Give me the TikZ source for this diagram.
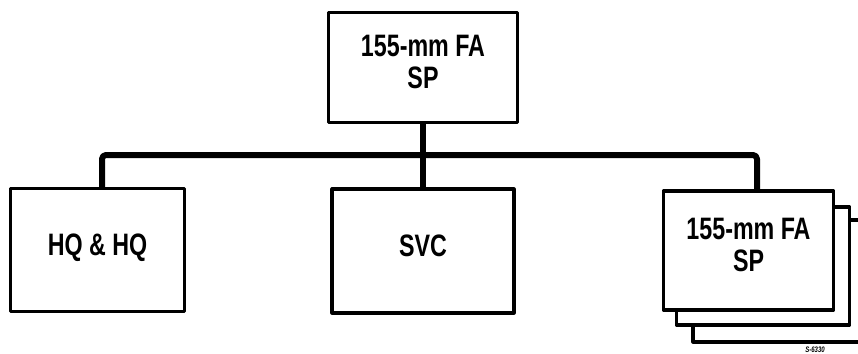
\documentclass[tikz,border=0pt]{standalone}
\usepackage{fontspec}
\setmainfont{Liberation Sans}[FakeStretch=0.75]
\usetikzlibrary{positioning}
\begin{document}
\begin{tikzpicture}[x=1pt,y=-1pt,line cap=round,line join=round,
  unit/.style={draw,line width=3.2pt,fill=white,rectangle,align=center,font=\bfseries\fontsize{31}{32}\selectfont,inner sep=0pt,text depth=11pt},
  link/.style={line width=6pt,rounded corners=4pt}]
  \useasboundingbox (0,0) rectangle (858,353);
  % battalion
  \node[unit,minimum width=189pt,minimum height=110pt] (bn) at (423,67.5) {155-mm FA\\SP};
  % companies and batteries
  \node[unit,minimum width=174pt,minimum height=123pt] (hq) at (97.5,250) {HQ \& HQ};
  \node[unit,minimum width=182pt,minimum height=124pt] (svc) at (423,251) {SVC};
  \node[unit,minimum width=190pt,minimum height=122pt] (btry3) at (788,281) {};
  \node[unit,minimum width=173pt,minimum height=118pt] (btry2) at (763,266) {};
  \node[unit,minimum width=170pt,minimum height=119pt] (btry) at (748.5,250.5) {155-mm FA\\SP};
  % connectors
  \coordinate (barL) at (102,155);
  \coordinate (barR) at (757,155);
  \draw[link] ([xshift=4.5pt]hq.north) -- (barL) -- (barR) -- ([xshift=8.5pt]btry.north);
  \draw[link] (bn.south) -- (svc.north);
  \node[font=\bfseries\itshape\fontsize{8}{8}\selectfont,anchor=south,inner sep=0pt] (neg) at (815,352.5) {S-6330};
\end{tikzpicture}
\end{document}
